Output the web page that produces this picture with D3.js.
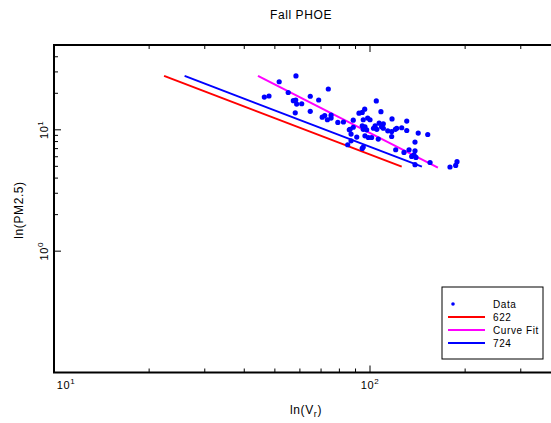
<!DOCTYPE html>
<html>
<head>
<meta charset="utf-8">
<script src="https://cdn.jsdelivr.net/npm/d3@7"></script>
<style>
  body { margin: 0; background: #fff; }
  text { font-family: "Liberation Sans", Arial, sans-serif; fill: #000; letter-spacing: 0.6px; }
</style>
</head>
<body>
<div id="chart"></div>
<script>
// data (Vr, PM2.5)
const dataVr = [51.6, 58.3, 46.3, 47.9, 55.1, 57.2, 58.2, 58.6, 60.8, 64.7, 68.8, 73.8, 58.0, 64.7,
  70.6, 71.9, 73.3, 75.3, 75.3, 79.1, 82.4, 86.0, 85.0, 104.7, 92.3, 94.5, 96.2, 108.3, 88.5, 95.2,
  98.3, 100, 117.4, 130.7, 94.5, 96.4, 106.9, 110.2, 86.5, 88.5, 95.2, 97.6, 113.8, 117.1, 120.3,
  121.5, 126.0, 130.7, 142.1, 152.3, 87.1, 90.8, 96.4, 98.8, 101.2, 106.2, 117.1, 87.1, 138.8, 94.5,
  95.2, 120.6, 128.1, 132.9, 138.8, 135.5, 139.8, 137.8, 138.8, 154.9, 179.1, 186.7, 188.5,
  102.6, 105.1, 108.8, 110.2, 103.8];
const dataPM = [24.9, 27.8, 18.6, 19.0, 20.3, 17.4, 17.6, 16.3, 16.4, 18.9, 17.6, 21.7, 13.8, 14.2,
  12.7, 13.1, 12.1, 12.5, 13.2, 11.5, 11.6, 10.0, 7.53, 17.3, 13.7, 13.9, 14.8, 14.1, 12.0, 12.1,
  12.5, 12.1, 12.3, 11.8, 10.8, 10.6, 11.35, 11.2, 10.1, 10.5, 10.1, 10.0, 9.81, 9.68, 10.1,
  10.3, 10.4, 9.87, 9.40, 9.15, 9.22, 8.71, 8.93, 8.64, 8.64, 8.39, 8.81, 8.12, 7.93, 7.02,
  7.21, 6.85, 6.51, 6.85, 6.72, 6.03, 5.92, 6.23, 5.16, 5.38, 4.94, 5.09, 5.46,
  10.3, 10.1, 10.6, 10.3, 10.8];

// fitted lines, end points
const lineNames = ["622", "Curve Fit", "724"];
const lineColors = ["#ff0000", "#ff00ff", "#0000ff"];
const lineVr = [[22.3, 126], [44.2, 164], [25.9, 146]];
const linePM = [[27.8, 4.97], [27.8, 4.87], [27.8, 4.97]];

const xMajor = [10, 100];
const xMinor = [20, 30, 40, 50, 60, 70, 80, 90, 200, 300, 400];
const yMajor = [1, 10];
const yMinor = [2, 3, 4, 5, 6, 7, 8, 9, 20, 30, 40];

const W = 551, H = 423;
const svg = d3.select("#chart").append("svg")
  .attr("width", W)
  .attr("height", H);

const x = d3.scaleLog().domain([10, 100]).range([54, 370]);
const y = d3.scaleLog().domain([0.1, 50]).range([372.5, 45]);
const pL = 54, pT = 45, pB = 372.5, pR = 600;

// title + axis labels
svg.append("text")
  .attr("x", 301)
  .attr("y", 19)
  .attr("text-anchor", "middle")
  .attr("font-size", 12)
  .text("Fall PHOE");

svg.append("text")
  .attr("transform", "translate(23,210) rotate(-90)")
  .attr("text-anchor", "middle")
  .attr("font-size", 12)
  .text("ln(PM2.5)");

const xl = svg.append("text")
  .attr("x", 306)
  .attr("y", 414)
  .attr("text-anchor", "middle")
  .attr("font-size", 12);
xl.append("tspan").text("ln(V");
xl.append("tspan").attr("font-size", 9).attr("dy", 3).text("r");
xl.append("tspan").attr("dy", -3).text(")");

// ticks
const tk = svg.append("g").attr("stroke", "#000").attr("stroke-width", 1);
xMajor.concat(xMinor).forEach(v => {
  const len = xMajor.includes(v) ? 7 : 4;
  tk.append("line").attr("x1", x(v)).attr("x2", x(v)).attr("y1", pB).attr("y2", pB - len);
  tk.append("line").attr("x1", x(v)).attr("x2", x(v)).attr("y1", pT).attr("y2", pT + len);
});
yMajor.concat(yMinor).forEach(v => {
  const len = yMajor.includes(v) ? 7 : 4;
  tk.append("line").attr("x1", pL).attr("x2", pL + len).attr("y1", y(v)).attr("y2", y(v));
});

// tick labels, 10^n
xMajor.forEach(v => {
  const t = svg.append("text")
    .attr("x", v == 10 ? 66 : x(v))
    .attr("y", 389)
    .attr("text-anchor", "middle")
    .attr("font-size", 11);
  t.append("tspan").text("10");
  t.append("tspan").attr("font-size", 8).attr("dy", -5).text(Math.round(Math.log10(v)));
});
yMajor.forEach(v => {
  const t = svg.append("text")
    .attr("transform", `translate(48,${y(v)}) rotate(-90)`)
    .attr("text-anchor", "middle")
    .attr("font-size", 11);
  t.append("tspan").text("10");
  t.append("tspan").attr("font-size", 8).attr("dy", -5).text(Math.round(Math.log10(v)));
});

// frame
svg.append("path")
  .attr("d", `M${pR},${pT}H${pL}V${pB}H${pR}`)
  .attr("fill", "none")
  .attr("stroke", "#000")
  .attr("stroke-width", 2);

// fit lines
lineNames.forEach((n, i) => {
  svg.append("line")
    .attr("x1", x(lineVr[i][0]))
    .attr("y1", y(linePM[i][0]))
    .attr("x2", x(lineVr[i][1]))
    .attr("y2", y(linePM[i][1]))
    .attr("stroke", lineColors[i])
    .attr("stroke-width", 2);
});

// points
svg.append("g").selectAll("circle")
  .data(dataVr)
  .join("circle")
  .attr("cx", d => x(d))
  .attr("cy", (d, i) => y(dataPM[i]))
  .attr("r", 2.6)
  .attr("fill", "#0000ff");

// legend
const lg = svg.append("g").attr("transform", "translate(442,287)");
lg.append("rect")
  .attr("width", 101)
  .attr("height", 72)
  .attr("fill", "#fff")
  .attr("stroke", "#000")
  .attr("stroke-width", 1);
lg.append("circle").attr("cx", 11).attr("cy", 17).attr("r", 1.8).attr("fill", "#0000ff");
lg.append("text").attr("x", 51).attr("y", 21).attr("font-size", 10).text("Data");
// legend order in picture: 622, Curve Fit, 724
lineNames.forEach((n, i) => {
  const yy = 30 + i * 13;
  lg.append("line")
    .attr("x1", 6).attr("x2", 43)
    .attr("y1", yy).attr("y2", yy)
    .attr("stroke", lineColors[i])
    .attr("stroke-width", 2);
  lg.append("text").attr("x", 51).attr("y", yy + 4).attr("font-size", 10).text(n);
});
</script>
</body>
</html>
